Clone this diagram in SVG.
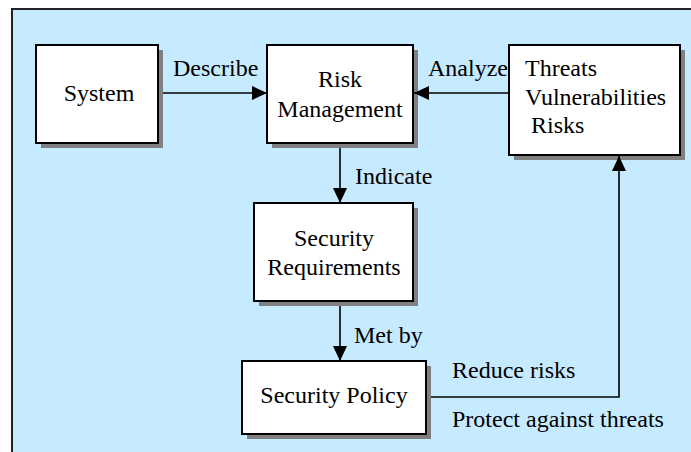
<svg xmlns="http://www.w3.org/2000/svg" width="691" height="452" viewBox="0 0 691 452">
  <style>
    .frame { fill: #C6EAFF; stroke: #222; stroke-width: 2; }
    .box { fill: #FFFFFF; stroke: #000; stroke-width: 2; }
    .shadow { fill: #808080; }
    .lbl { font-size: 24px; fill: #000; }
    .mid { text-anchor: middle; }
    .edge { fill: none; stroke: #000; stroke-width: 1.6; }
  </style>
  <defs>
    <marker id="arrow" viewBox="0 0 15 14" refX="15" refY="7" markerWidth="15" markerHeight="14" markerUnits="userSpaceOnUse" orient="auto">
      <path d="M0,0 L15,7 L0,14 Z" fill="#000"/>
    </marker>
  </defs>

  <!-- background panel -->
  <rect class="frame" x="12" y="9" width="700" height="460"/>

  <g font-family="Liberation Serif, Times New Roman, DejaVu Serif, serif">
  <!-- nodes -->
  <g id="system">
    <rect class="shadow" x="41" y="50" width="122" height="98"/>
    <rect class="box" x="36" y="45" width="122" height="98"/>
    <text class="lbl mid" x="99" y="101">System</text>
  </g>

  <g id="risk-management">
    <rect class="shadow" x="272" y="50" width="146" height="98"/>
    <rect class="box" x="267" y="45" width="146" height="98"/>
    <text class="lbl mid" x="340" y="87">Risk</text>
    <text class="lbl mid" x="340" y="117">Management</text>
  </g>

  <g id="threats">
    <rect class="shadow" x="514" y="50" width="171" height="110"/>
    <rect class="box" x="509" y="45" width="171" height="110"/>
    <text class="lbl" x="525" y="76">Threats</text>
    <text class="lbl" x="525" y="105">Vulnerabilities</text>
    <text class="lbl" x="531" y="133">Risks</text>
  </g>

  <g id="security-requirements">
    <rect class="shadow" x="259" y="208" width="159" height="98"/>
    <rect class="box" x="254" y="203" width="159" height="98"/>
    <text class="lbl mid" x="334" y="246">Security</text>
    <text class="lbl mid" x="334" y="275">Requirements</text>
  </g>

  <g id="security-policy">
    <rect class="shadow" x="247" y="366" width="184" height="73"/>
    <rect class="box" x="242" y="361" width="184" height="73"/>
    <text class="lbl mid" x="334" y="403">Security Policy</text>
  </g>

  <!-- connectors -->
  <g id="connectors">
    <line class="edge" x1="163" y1="93" x2="267" y2="93" marker-end="url(#arrow)"/>
    <line class="edge" x1="509" y1="93" x2="414" y2="93" marker-end="url(#arrow)"/>
    <line class="edge" x1="340" y1="148" x2="340" y2="203" marker-end="url(#arrow)"/>
    <line class="edge" x1="340" y1="306" x2="340" y2="361" marker-end="url(#arrow)"/>
    <polyline class="edge" points="431,397 619,397 619,156" marker-end="url(#arrow)"/>

    <text class="lbl" x="173" y="76">Describe</text>
    <text class="lbl" x="428" y="76">Analyze</text>
    <text class="lbl" x="355" y="184">Indicate</text>
    <text class="lbl" x="354" y="343">Met by</text>
    <text class="lbl" x="452" y="378">Reduce risks</text>
    <text class="lbl" x="452" y="427">Protect against threats</text>
  </g>
  </g>
</svg>
